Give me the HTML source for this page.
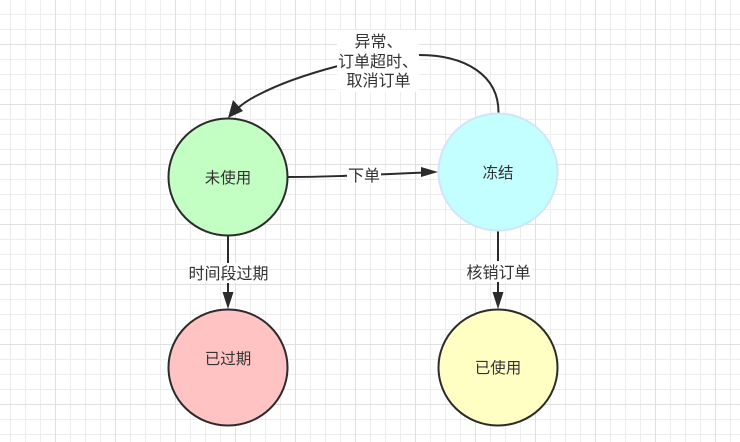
<!DOCTYPE html>
<html>
<head>
<meta charset="utf-8">
<style>
html,body{margin:0;padding:0;background:#fff;width:740px;height:442px;overflow:hidden}
svg{display:block}
text{font-family:"Liberation Sans","WenQuanYi Zen Hei","Noto Sans CJK SC",sans-serif;font-size:16px;fill:#333;text-anchor:middle}
text.n{font-size:15.5px}
</style>
</head>
<body>
<svg width="740" height="442" viewBox="0 0 740 442" xmlns="http://www.w3.org/2000/svg">
<defs>
<pattern id="minor" x="10" y="14" width="15" height="15" patternUnits="userSpaceOnUse">
<path d="M0.5 0V15M0 0.5H15" stroke="#ededed" stroke-width="1" fill="none"/>
</pattern>
<pattern id="major" x="55" y="44" width="60" height="60" patternUnits="userSpaceOnUse">
<path d="M0.5 0V60M0 0.5H60" stroke="#e0e0e0" stroke-width="1" fill="none"/>
</pattern>
</defs>
<rect width="740" height="442" fill="#fff"/>
<rect width="740" height="442" fill="url(#minor)"/>
<rect width="740" height="442" fill="url(#major)"/>

<path d="M498.5 113C499 75 465 55 419 55" fill="none" stroke="#2b2b2b" stroke-width="2"/>
<path d="M338 66C300 76 275 86 258 95C248 100 241 105 236 110" fill="none" stroke="#2b2b2b" stroke-width="2"/>
<polygon points="228,118 233,100 243,111" fill="#2b2b2b"/>
<path d="M288 177C320 177 345 176 425 172.5" fill="none" stroke="#2b2b2b" stroke-width="2"/>
<polygon points="438,172 421,177 421,167" fill="#2b2b2b"/>
<path d="M228 236V296" fill="none" stroke="#2b2b2b" stroke-width="2"/>
<polygon points="228,309 222.500,292 233.500,292" fill="#2b2b2b"/>
<path d="M498 231V296" fill="none" stroke="#2b2b2b" stroke-width="2"/>
<polygon points="498,309 492.500,292 503.500,292" fill="#2b2b2b"/>

<ellipse cx="228" cy="177" rx="59.500" ry="58.500" fill="#c3ffc3" stroke="#2b2b2b" stroke-width="2"/>
<ellipse cx="498" cy="172" rx="59.500" ry="58.500" fill="#c3ffff" stroke="#cfe5fb" stroke-width="2"/>
<ellipse cx="228" cy="367.500" rx="59.500" ry="58" fill="#ffc3c3" stroke="#2b2b2b" stroke-width="2"/>
<ellipse cx="498" cy="367.500" rx="59.500" ry="58" fill="#ffffc3" stroke="#2b2b2b" stroke-width="2"/>

<rect x="337" y="30" width="82" height="62" fill="#fff"/>
<rect x="347" y="166" width="34" height="18" fill="#fff"/>
<rect x="188" y="263" width="81" height="20" fill="#fff"/>
<rect x="466" y="261" width="66" height="21" fill="#fff"/>

<text x="378.500" y="47">异常、</text>
<text x="378" y="67">订单超时、</text>
<text x="378.500" y="86">取消订单</text>
<text x="364" y="181">下单</text>
<text class="n" x="228" y="183">未使用</text>
<text class="n" x="498" y="178">冻结</text>
<text x="228.500" y="279">时间段过期</text>
<text x="498.500" y="278">核销订单</text>
<text class="n" x="228" y="364">已过期</text>
<text class="n" x="498" y="373">已使用</text>
</svg>
</body>
</html>
